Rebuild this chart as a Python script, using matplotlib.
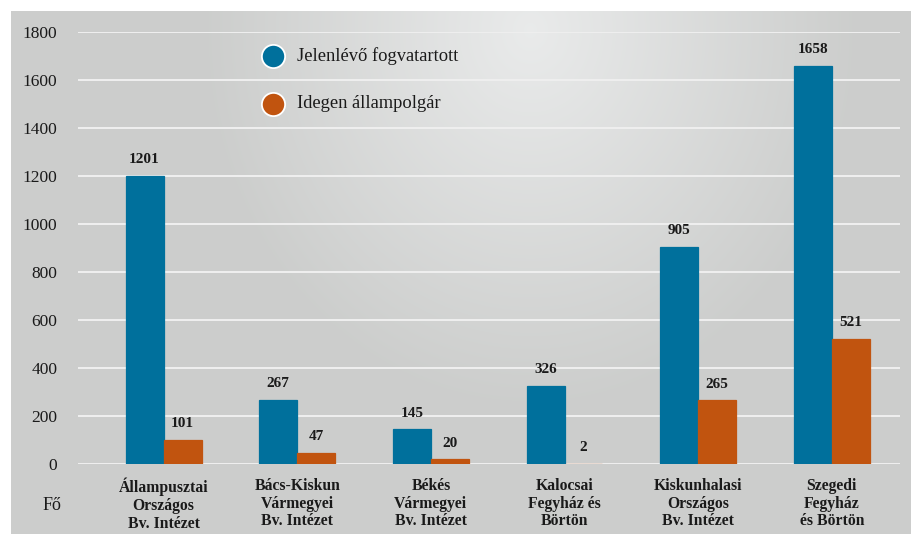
import matplotlib.pyplot as plt
import numpy as np

categories = ['Állampusztai\nOrszágos\nBv. Intézet', 'Bács-Kiskun\nVármegyei\nBv. Intézet',
              'Békés\nVármegyei\nBv. Intézet', 'Kalocsai\nFegyház és\nBörtön',
              'Kiskunhalasi\nOrszágos\nBv. Intézet', 'Szegedi\nFegyház\nés Börtön']
jelenlevo = [1201, 267, 145, 326, 905, 1658]
idegen = [101, 47, 20, 2, 265, 521]
series_names = ['Jelenlévő fogvatartott', 'Idegen állampolgár']
yticks = [0, 200, 400, 600, 800, 1000, 1200, 1400, 1600, 1800]

blue = '#00709c'
orange = '#c1540f'
W, H = 912, 534
serif = ['Liberation Serif', 'DejaVu Serif']
plt.rcParams['font.family'] = serif

fig = plt.figure(figsize=(W / 100, H / 100), dpi=100)

# gradient background panel
bg = fig.add_axes([11 / W, 0, 1 - 11 / W, 1 - 11 / H])
bg.set_axis_off()
yy, xx = np.mgrid[11:H, 11:W]
d = np.sqrt(((xx - 530) / 330.0) ** 2 + ((yy - 30) / 380.0) ** 2)
t = np.clip(d, 0, 1)
light = np.array([0.915, 0.92, 0.92])
dark = np.array([0.80, 0.805, 0.80])
img = light[None, None, :] * (1 - t[..., None]) + dark[None, None, :] * t[..., None]
bg.imshow(img, aspect='auto', extent=[0, 1, 0, 1], origin='upper')
bg.set_xlim(0, 1)
bg.set_ylim(0, 1)

ax = fig.add_axes([78 / W, 1 - 464 / H, (900 - 78) / W, (464 - 32) / H])
ax.patch.set_alpha(0)
x = np.arange(len(categories))
w = 0.284
ax.bar(x - w / 2, jelenlevo, w, color=blue, edgecolor=blue, linewidth=0.9, zorder=3)
ax.bar(x + w / 2, idegen, w, color=orange, edgecolor=orange, linewidth=0.9, zorder=3)
for xi, v in zip(x, jelenlevo):
    ax.text(xi - w / 2, v + 40, str(v), ha='center', va='bottom', fontsize=11,
            fontweight='bold', color='#1a1a1a')
for xi, v in zip(x, idegen):
    ax.text(xi + w / 2, v + 40, str(v), ha='center', va='bottom', fontsize=11,
            fontweight='bold', color='#1a1a1a')

ax.set_xlim(-0.64, 5.51)
ax.set_ylim(0, 1800)
ax.set_yticks(yticks)
ax.set_yticklabels([str(v) for v in yticks], fontsize=12.5, color='#1a1a1a')
ax.set_xticks(x)
ax.set_xticklabels(categories, fontsize=11.3, fontweight='bold', color='#1a1a1a',
                   linespacing=1.15)
ax.tick_params(axis='both', length=0)
ax.tick_params(axis='y', pad=15)
ax.tick_params(axis='x', pad=10)
for s in ax.spines.values():
    s.set_visible(False)
ax.grid(axis='y', color='#efefef', linewidth=1.4, zorder=1)
ax.set_axisbelow(True)

# legend as circles
for val, name, c in zip([1700, 1500], series_names, [blue, orange]):
    ax.scatter([0.82], [val], s=280, color=c, edgecolor='white', linewidth=1.3,
               zorder=4, clip_on=False)
    ax.text(1.0, val, name, va='center', ha='left', fontsize=13.3, color='#1a1a1a')

fig.text(52 / W, 1 - 505 / H, 'Fő', ha='center', va='center', fontsize=13, color='#1a1a1a')

fig.savefig('out.png', dpi=100)
